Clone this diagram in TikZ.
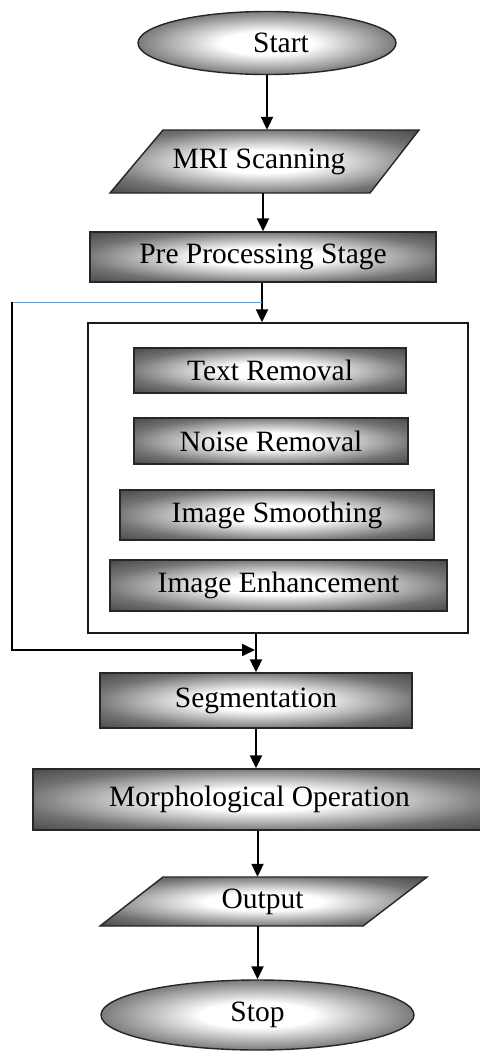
\documentclass[tikz,border=0pt]{standalone}
\usepackage{fontspec}
\setmainfont{Liberation Serif}
\usetikzlibrary{arrows.meta,shapes.geometric,calc}
\pgfdeclareradialshading{glow}{\pgfpoint{0bp}{0bp}}{color(0bp)=(white); color(9bp)=(white); color(26bp)=(black!55); color(36bp)=(black!72); color(50bp)=(black!78)}
\definecolor{linkblue}{HTML}{6A9BD8}
\tikzset{
  shadebox/.style={draw=black!85, line width=1.4pt, shading=glow},
  lbl/.style={font=\fontsize{29.5}{35}\selectfont, text=black, inner sep=0pt},
  flow/.style={line width=2pt, -{Triangle[width=12pt,length=13pt]}},
}
\begin{document}
\begin{tikzpicture}[x=1pt,y=-1pt]
\useasboundingbox (0,0) rectangle (479,1057);
\fill[white] (0,0) rectangle (479,1057);

% Start
\node[shadebox, ellipse, lbl, minimum width=258pt, minimum height=63pt] (start) at (267,43) {\hspace*{28pt}Start};

% MRI Scanning (parallelogram)
\path[shadebox] (163,130) -- (419,130) -- (370,193) -- (110,193) -- cycle;
\node[lbl, minimum height=63pt] (mri) at (259,161.5) {MRI Scanning};

% Pre Processing
\node[shadebox, rectangle, lbl, minimum width=346pt, minimum height=50pt] (pre) at (263,257) {Pre Processing Stage};

% Big container
\node[draw=black!90, line width=1.4pt, minimum width=380pt, minimum height=310pt, inner sep=0pt] (big) at (278,478) {};

\node[shadebox, rectangle, lbl, minimum width=272pt, minimum height=45pt] (tr) at (270,370.5) {Text Removal};
\node[shadebox, rectangle, lbl, minimum width=274pt, minimum height=46pt] (nr) at (271,441) {Noise Removal};
\node[shadebox, rectangle, lbl, minimum width=314pt, minimum height=50pt] (ism) at (277,515) {Image Smoothing};
\node[shadebox, rectangle, lbl, minimum width=337pt, minimum height=51pt] (ie) at (278.5,585.5) {Image Enhancement};

% Segmentation
\node[shadebox, rectangle, lbl, minimum width=312pt, minimum height=55pt] (seg) at (256,700.5) {Segmentation};

% Morphological
\node[shadebox, rectangle, lbl, minimum width=453pt, minimum height=61pt] (morph) at (259.5,799.5) {Morphological Operation};

% Output (parallelogram)
\path[shadebox] (163,877) -- (427,877) -- (363,926) -- (100,926) -- cycle;
\node[lbl, minimum height=49pt] (out) at (262.5,901.5) {Output};

% Stop
\node[shadebox, ellipse, lbl, minimum width=313pt, minimum height=70pt] (stop) at (257.5,1015) {Stop};

% connectors
\draw[flow] (start.south) -- (start.south |- mri.north);
\draw[flow] (pre.north |- mri.south) -- (pre.north);
\coordinate (bj) at (262,302);
\draw[flow] (pre.south -| bj) -- (bj |- big.north);
\coordinate (lc) at (12,302);
\coordinate (lb) at (12,650);
\coordinate (sj) at (255,650);
\draw[linkblue, line width=1pt] (bj) -- (lc);
\draw[line width=1.8pt, -{Triangle[width=12pt,length=13pt]}] (lc) -- (lb) -- (sj);
\draw[flow] (seg.north |- big.south) -- (seg.north);
\draw[flow] (seg.south) -- (seg.south |- morph.north);
\draw[flow] (stop.north |- morph.south) -- (stop.north |- out.north);
\draw[flow] (stop.north |- out.south) -- (stop.north);
\end{tikzpicture}
\end{document}
